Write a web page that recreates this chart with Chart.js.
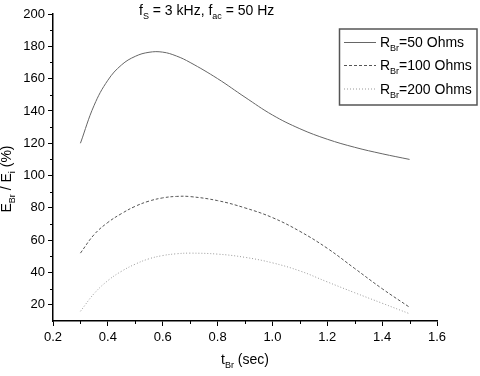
<!DOCTYPE html>
<html>
<head>
<meta charset="utf-8">
<script src="https://cdn.jsdelivr.net/npm/chart.js@4"></script>
<style>
  html, body { margin: 0; padding: 0; background: #fff; }
  #wrap { width: 480px; height: 376px; }
</style>
</head>
<body>
<div id="wrap"><canvas id="c" width="480" height="376"></canvas></div>
<script>
// braking time (s) and E_Br / E_i (%)
const tBr = [0.3, 0.35, 0.4, 0.45, 0.5, 0.55, 0.6, 0.65, 0.7, 0.8, 0.9, 1.0, 1.1, 1.2, 1.3, 1.4, 1.5];
const ohms50 = [120, 143.5, 159, 168.5, 173.8, 176.3, 176.4, 174, 170, 160, 148.5, 137.5, 129, 122.5, 117.5, 113.5, 110];
const ohms100 = [52, 63.5, 71, 76.5, 81, 84.2, 86.2, 87.1, 87, 84.5, 80, 74, 65.5, 55, 42.5, 30, 18.5];
const ohms200 = [16, 27, 35, 40.8, 45.2, 48.5, 50.5, 51.6, 52, 51.4, 49.4, 46, 41, 34.2, 27.5, 21, 14.5];

const xMinor = [0.3, 0.5, 0.7, 0.9, 1.1, 1.3, 1.5];
const yMinor = [30, 50, 70, 90, 110, 130, 150, 170, 190];

const seriesNames = ['=50 Ohms', '=100 Ohms', '=200 Ohms'];

const FONT = "'Liberation Sans', Arial, sans-serif";

const toPoints = (ys) => tBr.map((t, i) => ({ x: t, y: ys[i] }));

// text built from normal and subscript runs
function runsWidth(ctx, runs) {
  return runs.reduce((w, r) => {
    ctx.font = r.sub ? `9px ${FONT}` : `14px ${FONT}`;
    return w + ctx.measureText(r.t).width;
  }, 0);
}

function drawRuns(ctx, runs, x, y) {
  let cx = x;
  runs.forEach((r) => {
    ctx.font = r.sub ? `9px ${FONT}` : `14px ${FONT}`;
    ctx.fillText(r.t, cx, r.sub ? y + 4 : y);
    cx += ctx.measureText(r.t).width;
  });
}

const extras = {
  id: 'extras',
  afterDraw(chart) {
    const { ctx, chartArea } = chart;
    const xs = chart.scales.x;
    const ys = chart.scales.y;
    ctx.save();

    // minor ticks
    ctx.strokeStyle = '#000';
    ctx.lineWidth = 1;
    ctx.beginPath();
    yMinor.forEach((v) => {
      const py = Math.round(ys.getPixelForValue(v)) + 0.5;
      ctx.moveTo(chartArea.left - 3, py);
      ctx.lineTo(chartArea.left, py);
    });
    xMinor.forEach((v) => {
      const px = Math.round(xs.getPixelForValue(v)) + 0.5;
      ctx.moveTo(px, chartArea.bottom);
      ctx.lineTo(px, chartArea.bottom + 3);
    });
    ctx.stroke();

    ctx.fillStyle = '#000';
    ctx.textBaseline = 'alphabetic';
    ctx.textAlign = 'left';

    // title
    drawRuns(ctx, [
      { t: 'f' }, { t: 'S', sub: true }, { t: ' = 3 kHz, f' }, { t: 'ac', sub: true }, { t: ' = 50 Hz' },
    ], 139, 15);

    // x axis title
    const xt = [{ t: 't' }, { t: 'Br', sub: true }, { t: ' (sec)' }];
    drawRuns(ctx, xt, 245 - runsWidth(ctx, xt) / 2, 364);

    // y axis title
    const yt = [{ t: 'E' }, { t: 'Br', sub: true }, { t: ' / E' }, { t: 'i', sub: true }, { t: ' (%)' }];
    ctx.save();
    ctx.translate(11, 179);
    ctx.rotate(-Math.PI / 2);
    drawRuns(ctx, yt, -runsWidth(ctx, yt) / 2, 0);
    ctx.restore();

    // legend
    ctx.strokeStyle = '#555';
    ctx.lineWidth = 1.5;
    ctx.strokeRect(339.5, 29, 137.5, 76);
    const rowY = [42, 65, 88.5];
    chart.data.datasets.forEach((ds, i) => {
      ctx.strokeStyle = ds.borderColor;
      ctx.lineWidth = 1;
      ctx.setLineDash(ds.borderDash || []);
      ctx.beginPath();
      ctx.moveTo(344, rowY[i] + 0.5);
      ctx.lineTo(376, rowY[i] + 0.5);
      ctx.stroke();
      ctx.setLineDash([]);
      ctx.fillStyle = '#000';
      drawRuns(ctx, [{ t: 'R' }, { t: 'Br', sub: true }, { t: seriesNames[i] }], 380, rowY[i] + 5);
    });

    ctx.restore();
  },
};

new Chart(document.getElementById('c'), {
  type: 'line',
  data: {
    datasets: [
      {
        label: 'RBr=50 Ohms',
        data: toPoints(ohms50),
        borderColor: '#666',
        borderWidth: 1,
      },
      {
        label: 'RBr=100 Ohms',
        data: toPoints(ohms100),
        borderColor: '#555',
        borderWidth: 1,
        borderDash: [3, 2],
      },
      {
        label: 'RBr=200 Ohms',
        data: toPoints(ohms200),
        borderColor: '#999',
        borderWidth: 1,
        borderDash: [1, 2],
      },
    ],
  },
  options: {
    responsive: false,
    animation: false,
    layout: { padding: { top: 14, right: 43, left: 0, bottom: 0 } },
    elements: {
      point: { radius: 0 },
      line: { tension: 0.4 },
    },
    plugins: {
      legend: { display: false },
      title: { display: false },
      tooltip: { enabled: false },
    },
    scales: {
      x: {
        type: 'linear',
        min: 0.2,
        max: 1.6,
        afterFit: (scale) => { scale.height = 55; },
        grid: { drawOnChartArea: false, tickLength: 5, color: '#000' },
        border: { color: '#000', width: 1.5 },
        ticks: {
          stepSize: 0.2,
          padding: 4,
          color: '#000',
          font: { family: FONT, size: 13 },
          maxRotation: 0,
          callback: (v) => v.toFixed(1),
        },
      },
      y: {
        min: 10,
        max: 200,
        afterFit: (scale) => { scale.width = 53; },
        grid: { drawOnChartArea: false, tickLength: 5, color: '#000' },
        border: { color: '#000', width: 1.5 },
        ticks: {
          stepSize: 20,
          includeBounds: false,
          padding: 3,
          color: '#000',
          font: { family: FONT, size: 13 },
        },
      },
    },
  },
  plugins: [extras],
});
</script>
</body>
</html>
